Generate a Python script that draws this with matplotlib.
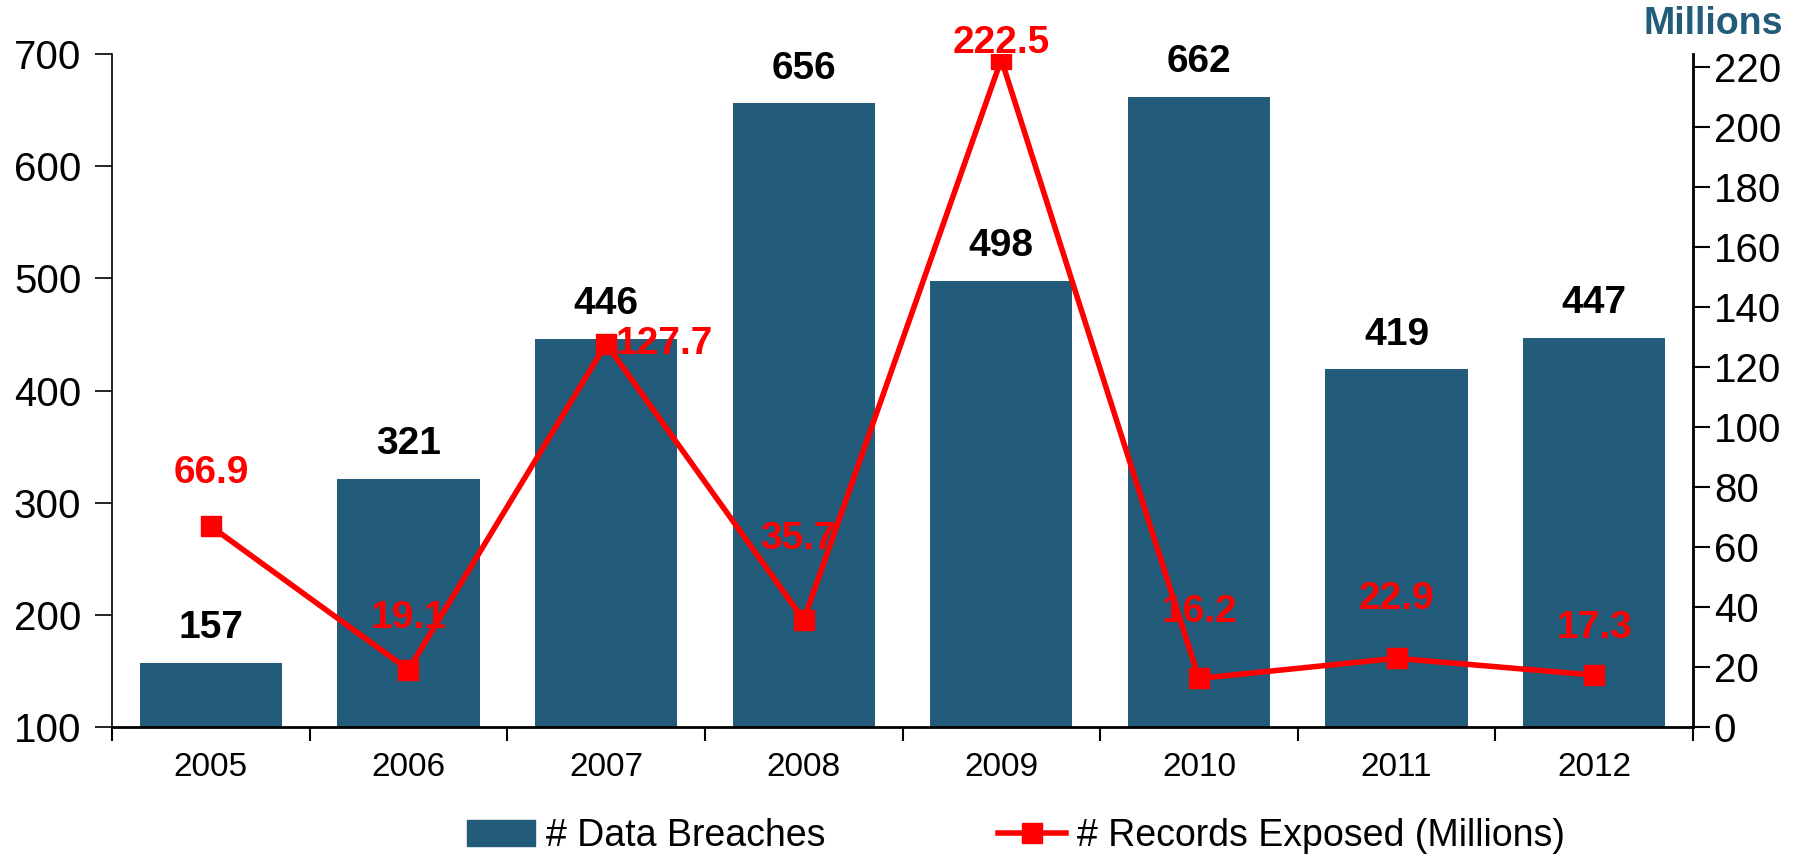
import numpy as np
import matplotlib.pyplot as plt

plt.rcParams['font.family'] = ['Liberation Sans', 'DejaVu Sans']

# Breach counts and records exposed per year
years = ['2005', '2006', '2007', '2008', '2009', '2010', '2011', '2012']
breaches = [157, 321, 446, 656, 498, 662, 419, 447]
records_m = [66.9, 19.1, 127.7, 35.7, 222.5, 16.2, 22.9, 17.3]

bar_color = '#235B7A'
line_color = '#FF0000'

fig = plt.figure(figsize=(18.03, 8.59), dpi=100)
ax = fig.add_axes([112 / 1803, 1 - 727 / 859, (1693 - 112) / 1803, (727 - 54) / 859])
ax2 = ax.twinx()

x = np.arange(len(years))

# bars for number of breaches
ax.bar(x, breaches, width=0.72, color=bar_color, zorder=2)
ax.set_ylim(100, 700)
ax.set_xlim(-0.5, len(years) - 0.5)
ax.set_yticks(range(100, 701, 100))
ax.tick_params(axis='y', labelsize=29, length=12, width=1.2, direction='out', pad=10)

# category labels centred, ticks on the boundaries
ax.set_xticks(x)
ax.set_xticklabels(years, fontsize=24)
ax.tick_params(axis='x', which='major', length=0, pad=18)
ax.set_xticks(np.arange(-0.5, len(years)), minor=True)
ax.tick_params(axis='x', which='minor', length=10, width=1.5, direction='out')

for xi, v in zip(x, breaches):
    ax.annotate(str(v), (xi, v), xytext=(0, 12), textcoords='offset points',
                ha='center', va='bottom', fontsize=28, fontweight='bold', color='black')

# records exposed line on the right axis
ax2.plot(x, records_m, color=line_color, lw=4, marker='s', ms=14, zorder=3)
ax2.set_ylim(0, 224.3)
ax2.set_yticks(range(0, 221, 20))
ax2.tick_params(axis='y', labelsize=29, length=12, width=1.5, direction='out', pad=3)

# label placement (points): 2007 sits to the right of its marker
label_offsets = [(0, 38), (0, 37), (7, 0), (-4, 58), (0, 12), (0, 48), (0, 43), (0, 34)]
for xi, v, off in zip(x, records_m, label_offsets):
    ha = 'left' if off[1] == 0 else 'center'
    ax2.annotate(f'{v:.1f}', (xi, v), xytext=off, textcoords='offset points',
                 ha=ha, va='center', fontsize=28, fontweight='bold',
                 color=line_color, zorder=4)

for a in (ax, ax2):
    a.spines['top'].set_visible(False)
ax.spines['left'].set_linewidth(1.2)
ax.spines['bottom'].set_linewidth(2)
ax2.spines['right'].set_linewidth(2)
ax2.spines['left'].set_visible(False)
ax2.spines['bottom'].set_visible(False)

fig.text(1783 / 1803, 1 - 24 / 859, 'Millions', ha='right', va='center',
         fontsize=27, fontweight='bold', color=bar_color)

handles = [plt.Rectangle((0, 0), 1, 1, color=bar_color),
           plt.Line2D([], [], color=line_color, lw=4, marker='s', ms=14)]
fig.legend(handles, ['# Data Breaches', '# Records Exposed (Millions)'],
           loc='center', bbox_to_anchor=(1016 / 1803, 1 - 836 / 859), ncol=2,
           frameon=False, fontsize=27, handlelength=1.8, handletextpad=0.3,
           columnspacing=4.6)

fig.savefig('out.png', dpi=100)
